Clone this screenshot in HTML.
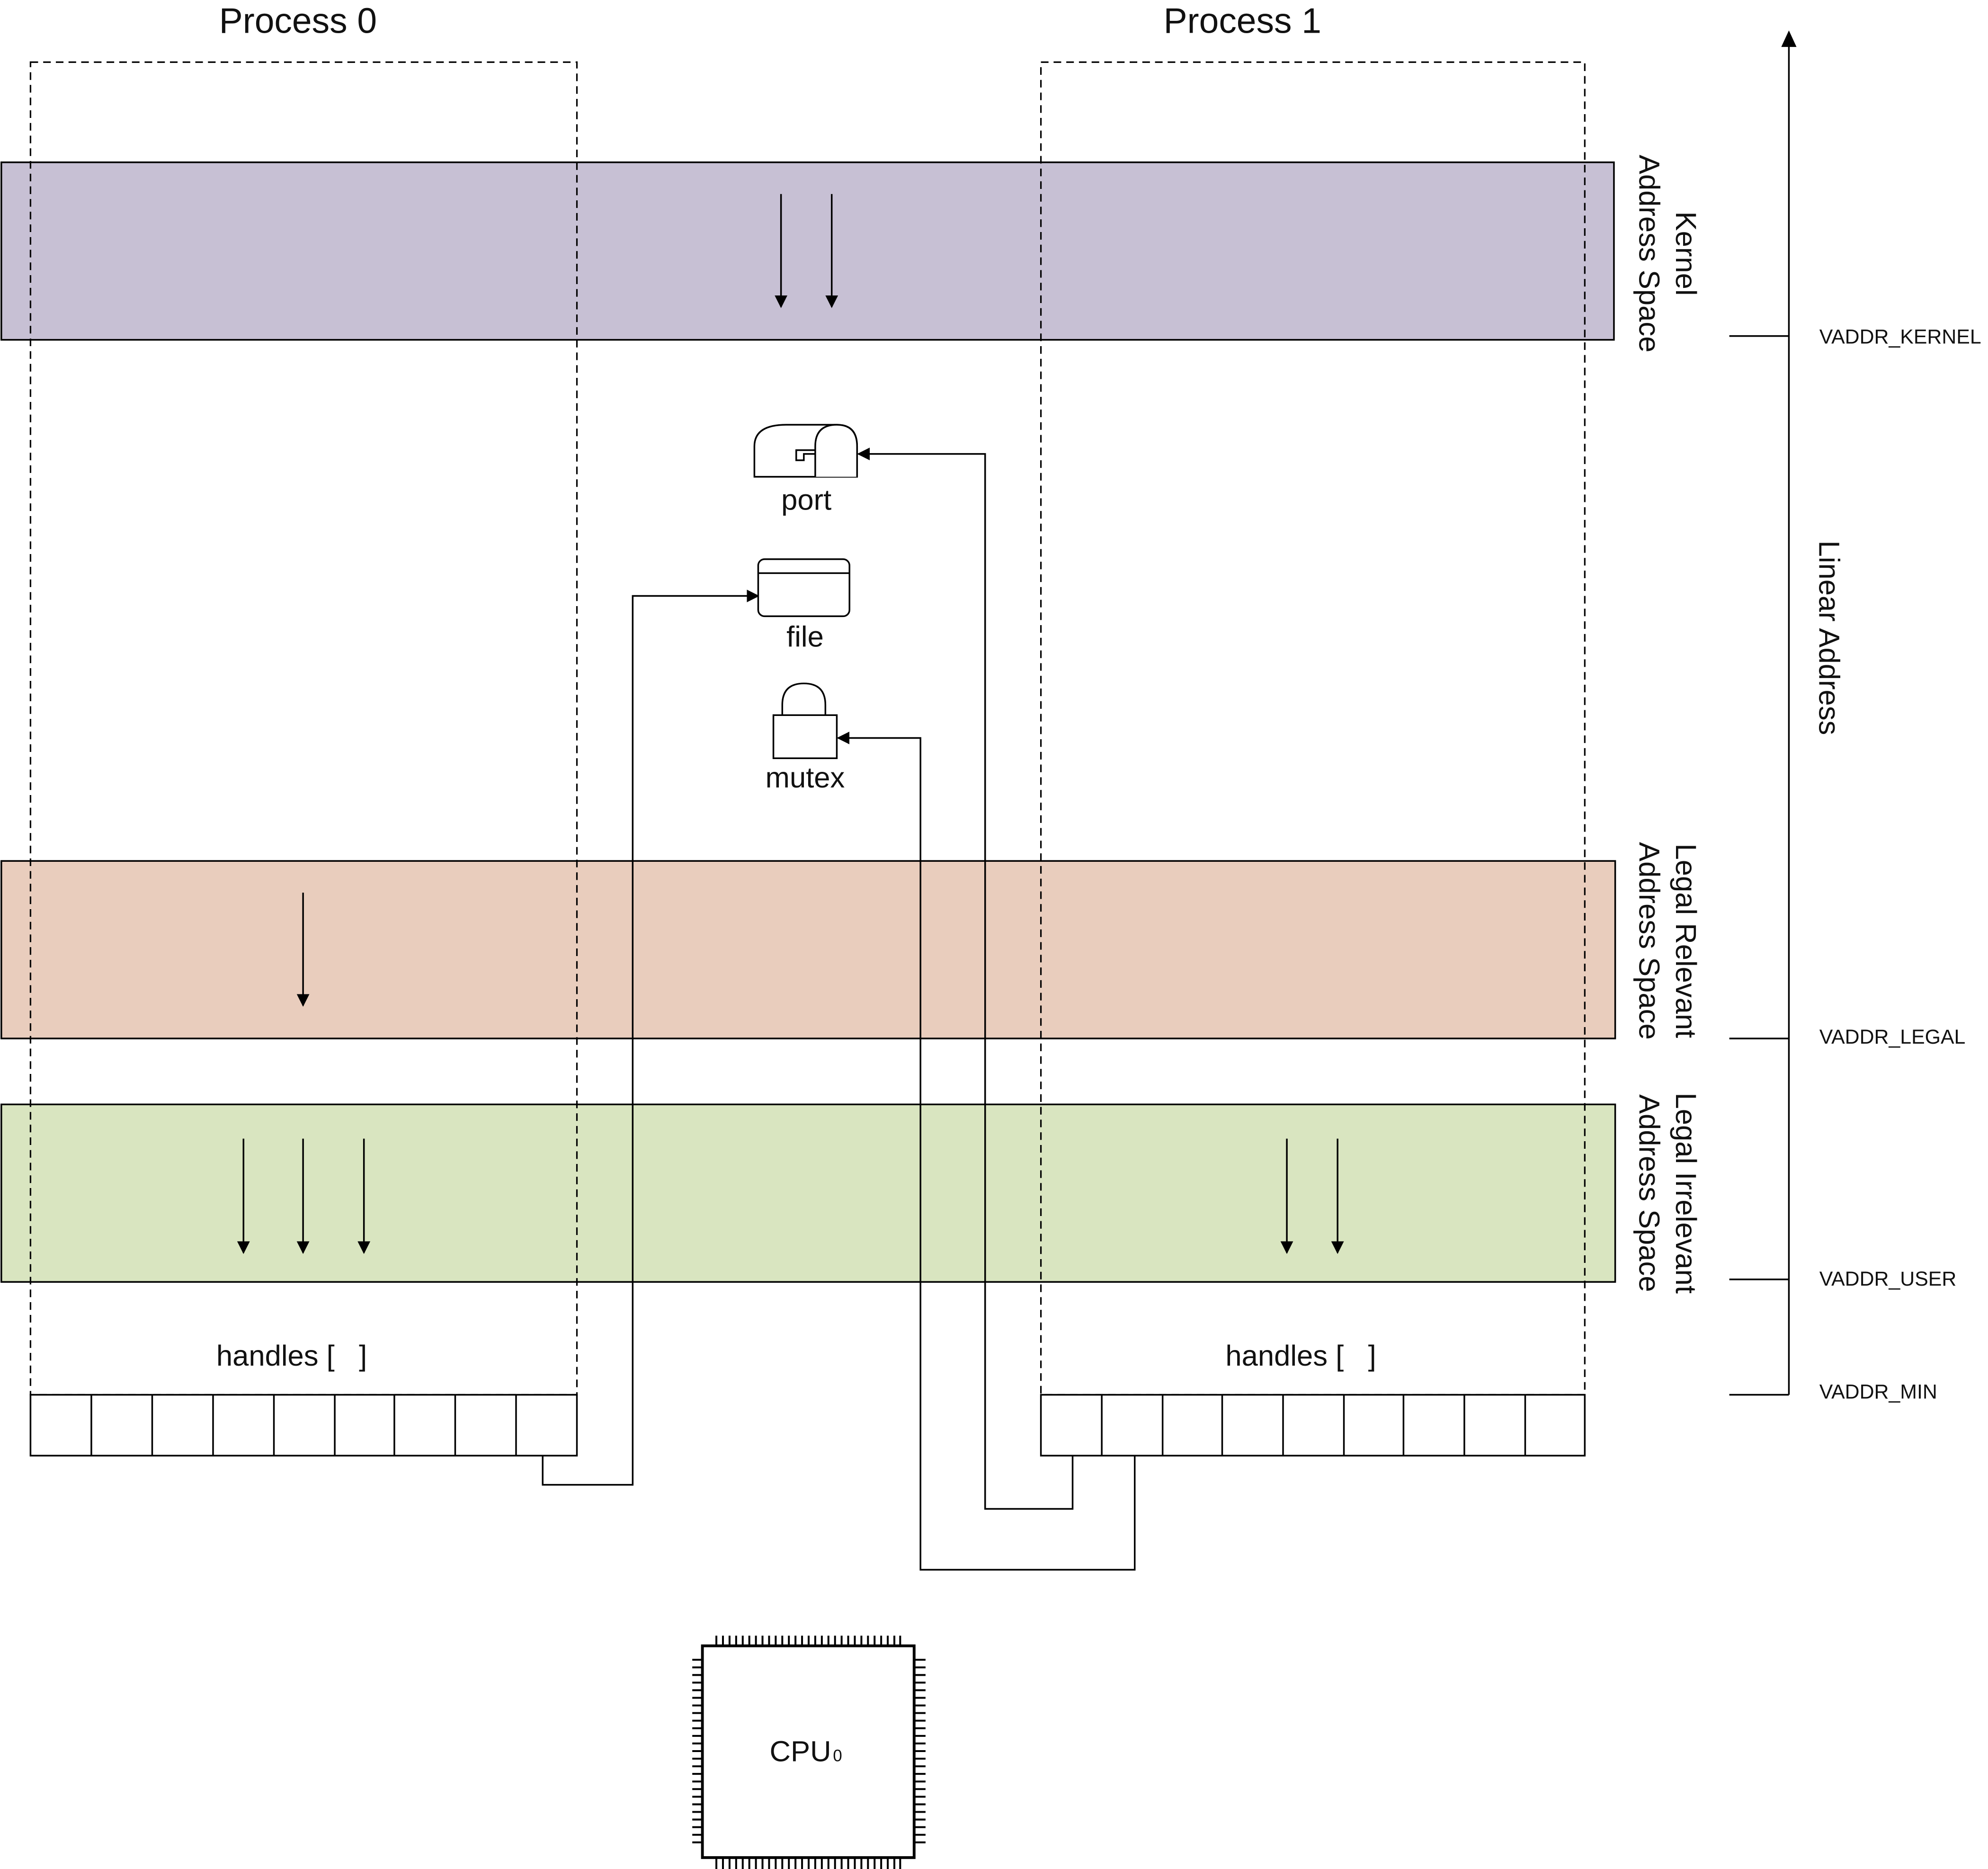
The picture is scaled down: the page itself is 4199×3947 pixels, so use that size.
<!DOCTYPE html>
<html><head><meta charset="utf-8"><style>
html,body{margin:0;padding:0;background:#fff;}
svg{display:block;}
text{font-family:"Liberation Sans",sans-serif;fill:#111;}
</style></head><body>
<svg width="4199" height="3947" viewBox="0 0 1568 1474" xmlns="http://www.w3.org/2000/svg">
<defs>
<marker id="ah" markerWidth="10" markerHeight="10" refX="9" refY="5" orient="auto" markerUnits="userSpaceOnUse">
<path d="M0,0 L10,5 L0,10 Z" fill="#000"/></marker>
</defs>
<rect width="1568" height="1474" fill="#fff"/>
<rect x="1" y="128" width="1272" height="140" fill="#c7c0d4" stroke="#000" stroke-width="1.3"/>
<rect x="1" y="679" width="1273" height="140" fill="#e9cdbd" stroke="#000" stroke-width="1.3"/>
<rect x="1" y="871" width="1273" height="140" fill="#d9e5c0" stroke="#000" stroke-width="1.3"/>
<rect x="24" y="49" width="431" height="1051" fill="none" stroke="#000" stroke-width="1.2" stroke-dasharray="6,4"/>
<rect x="821" y="49" width="429" height="1051" fill="none" stroke="#000" stroke-width="1.2" stroke-dasharray="6,4"/>
<text x="235" y="26" font-size="28" text-anchor="middle">Process 0</text>
<text x="980" y="26" font-size="28" text-anchor="middle">Process 1</text>
<g stroke="#000" stroke-width="1.3" marker-end="url(#ah)">
<line x1="616" y1="153" x2="616" y2="242"/>
<line x1="656" y1="153" x2="656" y2="242"/>
<line x1="239" y1="704" x2="239" y2="793"/>
<line x1="192" y1="898" x2="192" y2="988"/>
<line x1="239" y1="898" x2="239" y2="988"/>
<line x1="287" y1="898" x2="287" y2="988"/>
<line x1="1015" y1="898" x2="1015" y2="988"/>
<line x1="1055" y1="898" x2="1055" y2="988"/>
</g>
<g font-size="23" text-anchor="middle">
<text transform="translate(1322,200) rotate(90)">Kernel</text>
<text transform="translate(1293,200) rotate(90)">Address Space</text>
<text transform="translate(1322,742) rotate(90)">Legal Relevant</text>
<text transform="translate(1293,742) rotate(90)">Address Space</text>
<text transform="translate(1322,941) rotate(90)">Legal Irrelevant</text>
<text transform="translate(1293,941) rotate(90)">Address Space</text>
<text transform="translate(1435,503) rotate(90)">Linear Address</text>
</g>
<g stroke="#000" stroke-width="1.3">
<line x1="1411" y1="1100" x2="1411" y2="34"/>
<line x1="1364" y1="265" x2="1411" y2="265"/>
<line x1="1364" y1="819" x2="1411" y2="819"/>
<line x1="1364" y1="1009" x2="1411" y2="1009"/>
<line x1="1364" y1="1100" x2="1411" y2="1100"/>
</g>
<path d="M1405,37 L1411,24 L1417,37 Z" fill="#000"/>
<g font-size="16">
<text x="1435" y="271">VADDR_KERNEL</text>
<text x="1435" y="823">VADDR_LEGAL</text>
<text x="1435" y="1014">VADDR_USER</text>
<text x="1435" y="1103">VADDR_MIN</text>
</g>
<text x="230" y="1077" font-size="23" text-anchor="middle" xml:space="preserve">handles [   ]</text>
<text x="1026" y="1077" font-size="23" text-anchor="middle" xml:space="preserve">handles [   ]</text>
<g fill="#fff" stroke="#000" stroke-width="1.3">
<rect x="24" y="1100" width="431" height="48"/>
<rect x="821" y="1100" width="429" height="48"/>
</g>
<g stroke="#000" stroke-width="1.3">
<line x1="72" y1="1100" x2="72" y2="1148"/><line x1="120" y1="1100" x2="120" y2="1148"/>
<line x1="168" y1="1100" x2="168" y2="1148"/><line x1="216" y1="1100" x2="216" y2="1148"/>
<line x1="264" y1="1100" x2="264" y2="1148"/><line x1="311" y1="1100" x2="311" y2="1148"/>
<line x1="359" y1="1100" x2="359" y2="1148"/><line x1="407" y1="1100" x2="407" y2="1148"/>
<line x1="869" y1="1100" x2="869" y2="1148"/><line x1="917" y1="1100" x2="917" y2="1148"/>
<line x1="964" y1="1100" x2="964" y2="1148"/><line x1="1012" y1="1100" x2="1012" y2="1148"/>
<line x1="1060" y1="1100" x2="1060" y2="1148"/><line x1="1107" y1="1100" x2="1107" y2="1148"/>
<line x1="1155" y1="1100" x2="1155" y2="1148"/><line x1="1203" y1="1100" x2="1203" y2="1148"/>
</g>
<g fill="none" stroke="#000" stroke-width="1.3" marker-end="url(#ah)">
<polyline points="428,1148 428,1171 499,1171 499,470 598,470"/>
<polyline points="846,1148 846,1190 777,1190 777,358 677,358"/>
<polyline points="895,1148 895,1238 726,1238 726,582 661,582"/>
</g>
<g fill="#fff" stroke="#000" stroke-width="1.3">
<path d="M595,376 L595,352 Q595,335 620,335 L660,335 Q676,335 676,352 L676,376 Z"/>
<path d="M643,376 L643,352 Q643,335 660,335 Q676,335 676,352 L676,376"/>
<path d="M643,355 L628,355 L628,363 L634,363 L634,358 L643,358" fill="none"/>
</g>
<text x="636" y="402" font-size="23" text-anchor="middle">port</text>
<g fill="#fff" stroke="#000" stroke-width="1.3">
<rect x="598" y="441" width="72" height="45" rx="5"/>
<line x1="598" y1="452" x2="670" y2="452"/>
</g>
<text x="635" y="510" font-size="23" text-anchor="middle">file</text>
<g fill="#fff" stroke="#000" stroke-width="1.3">
<path d="M617,564 L617,556 Q617,539 634,539 Q651,539 651,556 L651,564"/>
<rect x="610" y="564" width="50" height="34"/>
</g>
<text x="635" y="621" font-size="23" text-anchor="middle">mutex</text>
<rect x="554" y="1298" width="167" height="167" fill="#fff" stroke="#000" stroke-width="2.2"/>
<g stroke="#000" stroke-width="1.5">
<path d="M565,1290V1298M570.2,1290V1298M575.4,1290V1298M580.6,1290V1298M585.8,1290V1298M591,1290V1298M596.2,1290V1298M601.4,1290V1298M606.6,1290V1298M611.8,1290V1298M617,1290V1298M622.2,1290V1298M627.4,1290V1298M632.6,1290V1298M637.8,1290V1298M643,1290V1298M648.2,1290V1298M653.4,1290V1298M658.6,1290V1298M663.8,1290V1298M669,1290V1298M674.2,1290V1298M679.4,1290V1298M684.6,1290V1298M689.8,1290V1298M695,1290V1298M700.2,1290V1298M705.4,1290V1298M710,1290V1298"/>
<path d="M565,1465V1474M570.2,1465V1474M575.4,1465V1474M580.6,1465V1474M585.8,1465V1474M591,1465V1474M596.2,1465V1474M601.4,1465V1474M606.6,1465V1474M611.8,1465V1474M617,1465V1474M622.2,1465V1474M627.4,1465V1474M632.6,1465V1474M637.8,1465V1474M643,1465V1474M648.2,1465V1474M653.4,1465V1474M658.6,1465V1474M663.8,1465V1474M669,1465V1474M674.2,1465V1474M679.4,1465V1474M684.6,1465V1474M689.8,1465V1474M695,1465V1474M700.2,1465V1474M705.4,1465V1474M710,1465V1474"/>
<path d="M546,1309H554M546,1315H554M546,1321H554M546,1327H554M546,1333H554M546,1339H554M546,1345H554M546,1351H554M546,1357H554M546,1363H554M546,1369H554M546,1375H554M546,1381H554M546,1387H554M546,1393H554M546,1399H554M546,1405H554M546,1411H554M546,1417H554M546,1423H554M546,1429H554M546,1435H554M546,1441H554M546,1447H554M546,1453H554"/>
<path d="M721,1309H730M721,1315H730M721,1321H730M721,1327H730M721,1333H730M721,1339H730M721,1345H730M721,1351H730M721,1357H730M721,1363H730M721,1369H730M721,1375H730M721,1381H730M721,1387H730M721,1393H730M721,1399H730M721,1405H730M721,1411H730M721,1417H730M721,1423H730M721,1429H730M721,1435H730M721,1441H730M721,1447H730M721,1453H730"/>
</g>
<text x="607" y="1389" font-size="23">CPU</text>
<text x="657" y="1389" font-size="13" font-family="Liberation Mono, monospace">0</text>
</svg>
</body></html>
